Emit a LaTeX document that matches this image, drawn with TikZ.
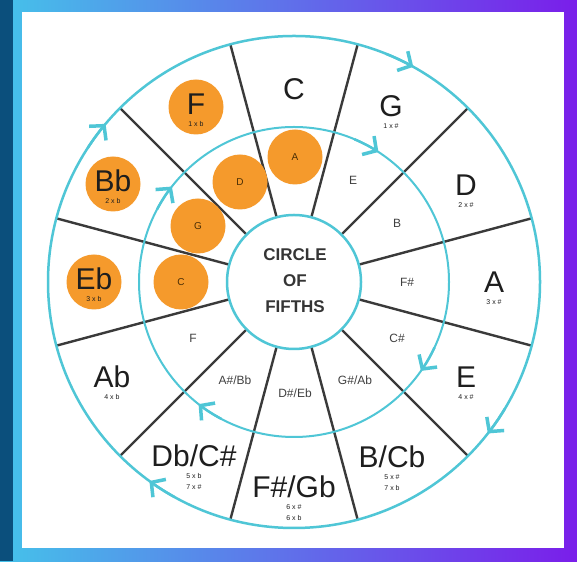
\documentclass[tikz,border=0pt]{standalone}
\usepackage{fontspec}
\setmainfont{Liberation Sans}
\usetikzlibrary{arrows.meta}
\definecolor{ringcyan}{HTML}{4FC6D6}
\definecolor{linegray}{HTML}{3A3A3A}
\definecolor{keyorange}{HTML}{F59A2C}
\definecolor{framedark}{HTML}{0B4F7C}
\definecolor{framecyan}{HTML}{45C2EA}
\definecolor{framepurple}{HTML}{7A1EEA}
\definecolor{txt}{HTML}{1E1E1E}
\definecolor{dottxt}{HTML}{4A2E05}
\begin{document}
\begin{tikzpicture}[x=1pt,y=1pt,
  ring/.style={draw=ringcyan,line width=2.5pt},
  divider/.style={draw=linegray,line width=2.4pt},
  keylabel/.style={font=\fontsize{30}{30}\selectfont,text=txt,inner sep=0pt},
  sublabel/.style={font=\fontsize{7}{11}\selectfont,text=txt,inner sep=0pt,align=center,anchor=north},
  minorlabel/.style={font=\fontsize{12}{12}\selectfont,text=txt!85,inner sep=0pt},
  orangedot/.style={circle,fill=keyorange,minimum size=55pt,inner sep=0pt},
  dotletter/.style={font=\fontsize{10}{10}\selectfont,text=dottxt,inner sep=0pt},
  flow/.style={draw=ringcyan,line width=2.5pt,-{Straight Barb[length=10pt,width=22pt,line width=3.5pt]}},
  titletext/.style={font=\fontsize{17}{26}\bfseries\selectfont,text=txt!90,align=center,inner sep=0pt}
]
\useasboundingbox (0,0) rectangle (577,561);
\shade[left color=framecyan,right color=framepurple] (0,0) rectangle (577,561);
\fill[framedark] (0,0) rectangle (13,561);
\fill[white] (22,13) rectangle (564,549);
\coordinate (O) at (294,279);
% sector dividers
\foreach \a in {15,45,...,345}
  \draw[divider] ([shift={(\a:67)}]O) -- ([shift={(\a:246)}]O);
% rings
\draw[ring] (O) circle[radius=246];
\draw[ring,line width=2pt] (O) circle[radius=155];
\node[circle,draw=ringcyan,line width=2.5pt,fill=white,minimum size=134pt,inner sep=0pt] (hub) at (O) {};
% flow arrows (clockwise)
\foreach \a in {61,-38,-126,140}
  \draw[flow] ([shift={(\a+7:246)}]O) arc[start angle=\a+7,end angle=\a,radius=246];
\foreach \a in {57,-35,-128,142}
  \draw[flow] ([shift={(\a+10:155)}]O) arc[start angle=\a+10,end angle=\a,radius=155];
% orange dots
\node[orangedot] (dF)  at (196,454) {};
\node[orangedot] (dBb) at (113,377) {};
\node[orangedot] (dEb) at (94,279) {};
\node[orangedot] (dA)  at (295,404) {};
\node[orangedot] (dD)  at (240,379) {};
\node[orangedot] (dG)  at (198,335) {};
\node[orangedot] (dC)  at (181,279) {};
% outer key labels
\node[keylabel] (kC)  at (294,472) {C};
\node[keylabel] (kG)  at (391,455) {G};
\node[keylabel] (kD)  at (466,376) {D};
\node[keylabel] (kA)  at (494,279) {A};
\node[keylabel] (kE)  at (466,184) {E};
\node[keylabel] (kB)  at (392,104) {B/Cb};
\node[keylabel] (kFs) at (294,74)  {F\#/Gb};
\node[keylabel] (kDb) at (194,105) {Db/C\#};
\node[keylabel] (kAb) at (112,184) {Ab};
\node[keylabel] (kEb) at (94,282)  {Eb};
\node[keylabel] (kBb) at (113,380) {Bb};
\node[keylabel] (kF)  at (196,457) {F};
% sub labels
\node[sublabel] (sG)  at ([yshift=-17pt]kG.center)  {1 x \#};
\node[sublabel] (sD)  at ([yshift=-17pt]kD.center)  {2 x \#};
\node[sublabel] (sA)  at ([yshift=-17pt]kA.center)  {3 x \#};
\node[sublabel] (sE)  at ([yshift=-17pt]kE.center)  {4 x \#};
\node[sublabel] (sB)  at ([yshift=-17pt]kB.center)  {5 x \#\\7 x b};
\node[sublabel] (sFs) at ([yshift=-17pt]kFs.center) {6 x \#\\6 x b};
\node[sublabel] (sDb) at ([yshift=-17pt]kDb.center) {5 x b\\7 x \#};
\node[sublabel] (sAb) at ([yshift=-17pt]kAb.center) {4 x b};
\node[sublabel] (sEb) at ([yshift=-17pt]kEb.center) {3 x b};
\node[sublabel] (sBb) at ([yshift=-17pt]kBb.center) {2 x b};
\node[sublabel] (sF)  at ([yshift=-17pt]kF.center)  {1 x b};
% inner minor labels
\node[minorlabel] (mE)  at (353,381) {E};
\node[minorlabel] (mB)  at (397,338) {B};
\node[minorlabel] (mFs) at (407,279) {F\#};
\node[minorlabel] (mCs) at (397,223) {C\#};
\node[minorlabel] (mGs) at (355,181) {G\#/Ab};
\node[minorlabel] (mDs) at (295,168) {D\#/Eb};
\node[minorlabel] (mAs) at (235,181) {A\#/Bb};
\node[minorlabel] (mF)  at (193,223) {F};
\node[dotletter] (tA) at (dA) {A};
\node[dotletter] (tD) at (dD) {D};
\node[dotletter] (tG) at (dG) {G};
\node[dotletter] (tC) at (dC) {C};
% title
\node[titletext] (title) at (295,280) {CIRCLE\\OF\\FIFTHS};
\end{tikzpicture}
\end{document}
